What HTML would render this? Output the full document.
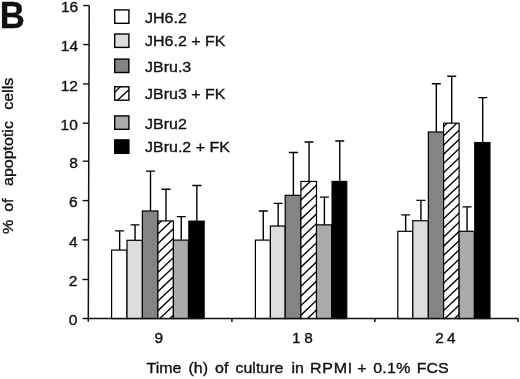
<!DOCTYPE html>
<html><head><meta charset="utf-8"><title>B</title>
<style>
html,body{margin:0;padding:0;background:#fff}
body{width:520px;height:379px;overflow:hidden;font-family:"Liberation Sans",sans-serif}
svg{display:block;will-change:transform}
text{font-family:"Liberation Sans",sans-serif;fill:#111;stroke:#111;stroke-width:.35px}
</style></head><body>
<svg width="520" height="379" viewBox="0 0 520 379">
<rect width="520" height="379" fill="#fff"/>

<text transform="translate(-0.3 27.5) scale(0.943 1)" font-size="36.8" font-weight="bold" fill="#000" stroke="none">B</text>
<path d="M119.65 250.07V230.91M115.15 230.91H124.15" stroke="#000" stroke-width="1.4" fill="none"/>
<rect x="111.60" y="250.07" width="15.40" height="68.53" fill="#fff" stroke="#000" stroke-width="1.2"/>
<path d="M135.05 240.30V224.85M130.55 224.85H139.55" stroke="#000" stroke-width="1.4" fill="none"/>
<rect x="127.00" y="240.30" width="15.40" height="78.30" fill="#dddddd" stroke="#000" stroke-width="1.2"/>
<path d="M150.50 210.97V171.09M146.00 171.09H155.00" stroke="#000" stroke-width="1.4" fill="none"/>
<rect x="142.40" y="210.97" width="15.50" height="107.63" fill="#848484" stroke="#000" stroke-width="1.2"/>
<path d="M166.00 220.94V189.27M161.50 189.27H170.50" stroke="#000" stroke-width="1.4" fill="none"/>
<rect x="157.90" y="220.94" width="15.50" height="97.66" fill="#fff" stroke="#000" stroke-width="1.2"/>
<clipPath id="c0"><rect x="157.90" y="220.94" width="15.50" height="97.66"/></clipPath>
<path d="M156.90 215.65L174.40 199.04M156.90 225.25L174.40 208.64M156.90 234.85L174.40 218.24M156.90 244.45L174.40 227.84M156.90 254.05L174.40 237.44M156.90 263.65L174.40 247.04M156.90 273.25L174.40 256.64M156.90 282.85L174.40 266.24M156.90 292.45L174.40 275.84M156.90 302.05L174.40 285.44M156.90 311.65L174.40 295.04M156.90 321.25L174.40 304.64M156.90 330.85L174.40 314.24" clip-path="url(#c0)" stroke="#000" stroke-width="1.35" fill="none"/>
<path d="M181.25 240.10V216.64M176.75 216.64H185.75" stroke="#000" stroke-width="1.4" fill="none"/>
<rect x="173.40" y="240.10" width="15.00" height="78.50" fill="#aaaaaa" stroke="#000" stroke-width="1.2"/>
<path d="M196.85 221.14V185.56M192.35 185.56H201.35" stroke="#000" stroke-width="1.4" fill="none"/>
<rect x="188.85" y="221.14" width="15.30" height="97.46" fill="#000" stroke="#000" stroke-width="1.2"/>
<path d="M263.25 240.10V210.97M258.75 210.97H267.75" stroke="#000" stroke-width="1.4" fill="none"/>
<rect x="255.40" y="240.10" width="15.00" height="78.50" fill="#fff" stroke="#000" stroke-width="1.2"/>
<path d="M278.15 226.02V203.35M273.65 203.35H282.65" stroke="#000" stroke-width="1.4" fill="none"/>
<rect x="270.40" y="226.02" width="14.80" height="92.58" fill="#dddddd" stroke="#000" stroke-width="1.2"/>
<path d="M293.40 195.33V152.52M288.90 152.52H297.90" stroke="#000" stroke-width="1.4" fill="none"/>
<rect x="285.20" y="195.33" width="15.70" height="123.27" fill="#848484" stroke="#000" stroke-width="1.2"/>
<path d="M309.05 181.45V141.96M304.55 141.96H313.55" stroke="#000" stroke-width="1.4" fill="none"/>
<rect x="300.90" y="181.45" width="15.60" height="137.15" fill="#fff" stroke="#000" stroke-width="1.2"/>
<clipPath id="c1"><rect x="300.90" y="181.45" width="15.60" height="137.15"/></clipPath>
<path d="M299.90 172.15L317.50 155.45M299.90 181.75L317.50 165.05M299.90 191.35L317.50 174.65M299.90 200.95L317.50 184.25M299.90 210.55L317.50 193.85M299.90 220.15L317.50 203.45M299.90 229.75L317.50 213.05M299.90 239.35L317.50 222.65M299.90 248.95L317.50 232.25M299.90 258.55L317.50 241.85M299.90 268.15L317.50 251.45M299.90 277.75L317.50 261.05M299.90 287.35L317.50 270.65M299.90 296.95L317.50 280.25M299.90 306.55L317.50 289.85M299.90 316.15L317.50 299.45M299.90 325.75L317.50 309.05M299.90 335.35L317.50 318.65" clip-path="url(#c1)" stroke="#000" stroke-width="1.35" fill="none"/>
<path d="M324.40 224.85V197.09M319.90 197.09H328.90" stroke="#000" stroke-width="1.4" fill="none"/>
<rect x="316.50" y="224.85" width="15.10" height="93.75" fill="#aaaaaa" stroke="#000" stroke-width="1.2"/>
<path d="M339.75 181.45V140.98M335.25 140.98H344.25" stroke="#000" stroke-width="1.4" fill="none"/>
<rect x="332.05" y="181.45" width="14.70" height="137.15" fill="#000" stroke="#000" stroke-width="1.2"/>
<path d="M405.65 231.30V214.88M401.15 214.88H410.15" stroke="#000" stroke-width="1.4" fill="none"/>
<rect x="397.80" y="231.30" width="15.00" height="87.30" fill="#fff" stroke="#000" stroke-width="1.2"/>
<path d="M420.93 220.75V200.41M416.43 200.41H425.43" stroke="#000" stroke-width="1.4" fill="none"/>
<rect x="412.80" y="220.75" width="15.55" height="97.85" fill="#dddddd" stroke="#000" stroke-width="1.2"/>
<path d="M436.33 131.99V83.70M431.83 83.70H440.83" stroke="#000" stroke-width="1.4" fill="none"/>
<rect x="428.35" y="131.99" width="15.25" height="186.61" fill="#848484" stroke="#000" stroke-width="1.2"/>
<path d="M451.70 123.19V76.27M447.20 76.27H456.20" stroke="#000" stroke-width="1.4" fill="none"/>
<rect x="443.60" y="123.19" width="15.50" height="195.41" fill="#fff" stroke="#000" stroke-width="1.2"/>
<clipPath id="c2"><rect x="443.60" y="123.19" width="15.50" height="195.41"/></clipPath>
<path d="M442.60 118.35L460.10 101.74M442.60 127.55L460.10 110.94M442.60 136.75L460.10 120.14M442.60 145.95L460.10 129.34M442.60 155.15L460.10 138.54M442.60 164.35L460.10 147.74M442.60 173.55L460.10 156.94M442.60 182.75L460.10 166.14M442.60 191.95L460.10 175.34M442.60 201.15L460.10 184.54M442.60 210.35L460.10 193.74M442.60 219.55L460.10 202.94M442.60 228.75L460.10 212.14M442.60 237.95L460.10 221.34M442.60 247.15L460.10 230.54M442.60 256.35L460.10 239.74M442.60 265.55L460.10 248.94M442.60 274.75L460.10 258.14M442.60 283.95L460.10 267.34M442.60 293.15L460.10 276.54M442.60 302.35L460.10 285.74M442.60 311.55L460.10 294.94M442.60 320.75L460.10 304.14M442.60 329.95L460.10 313.34" clip-path="url(#c2)" stroke="#000" stroke-width="1.35" fill="none"/>
<path d="M467.05 231.30V206.87M462.55 206.87H471.55" stroke="#000" stroke-width="1.4" fill="none"/>
<rect x="459.10" y="231.30" width="15.20" height="87.30" fill="#aaaaaa" stroke="#000" stroke-width="1.2"/>
<path d="M482.70 142.55V97.58M478.20 97.58H487.20" stroke="#000" stroke-width="1.4" fill="none"/>
<rect x="474.75" y="142.55" width="15.20" height="176.05" fill="#000" stroke="#000" stroke-width="1.2"/>
<path d="M89.2 5.5L88.3 321.8M82.6 318.6H518.4M518 318.6V321.9M231.9 318.6V321.9M374.9 318.6V321.9" stroke="#111" stroke-width="1.5" fill="none"/>
<path d="M83.20 5.55H89.20" stroke="#111" stroke-width="1.4"/>
<text x="78.20" y="12.35" font-size="15.5" text-anchor="end">16</text>
<path d="M83.09 44.57H89.09" stroke="#111" stroke-width="1.4"/>
<text x="78.09" y="51.37" font-size="15.5" text-anchor="end">14</text>
<path d="M82.98 83.90H88.98" stroke="#111" stroke-width="1.4"/>
<text x="77.98" y="90.70" font-size="15.5" text-anchor="end">12</text>
<path d="M82.87 123.20H88.87" stroke="#111" stroke-width="1.4"/>
<text x="77.87" y="130.00" font-size="15.5" text-anchor="end">10</text>
<path d="M82.76 161.20H88.76" stroke="#111" stroke-width="1.4"/>
<text x="77.76" y="168.00" font-size="15.5" text-anchor="end">8</text>
<path d="M82.64 200.60H88.64" stroke="#111" stroke-width="1.4"/>
<text x="77.64" y="207.40" font-size="15.5" text-anchor="end">6</text>
<path d="M82.53 239.90H88.53" stroke="#111" stroke-width="1.4"/>
<text x="77.53" y="246.70" font-size="15.5" text-anchor="end">4</text>
<path d="M82.42 279.50H88.42" stroke="#111" stroke-width="1.4"/>
<text x="77.42" y="286.30" font-size="15.5" text-anchor="end">2</text>
<text x="77.31" y="325.45" font-size="15.5" text-anchor="end">0</text>
<text x="154.6" y="343.4" font-size="15.4">9</text>
<text x="292.1" y="343.4" font-size="15.4" letter-spacing="3.6">18</text>
<text x="435.2" y="343.4" font-size="15.4" letter-spacing="3.3">24</text>
<text transform="translate(146.5 373.2) scale(1.06 1)" font-size="15.1" word-spacing="2.45">Time (h) of culture <tspan dx="0.9">in</tspan> <tspan dx="-0.9" letter-spacing="0.7">RPMI</tspan> <tspan dx="-2.7">+</tspan> <tspan dx="-0.4" letter-spacing="0.3">0.1%</tspan> <tspan dx="-1.1">FCS</tspan></text>
<text transform="translate(13.3 234) rotate(-90) scale(1.075 1)" font-size="14.9" word-spacing="4.65">% <tspan dx="-1.4">of</tspan> <tspan dx="2.8">apoptotic</tspan> <tspan dx="1.7">cells</tspan></text>
<rect x="114.7" y="9.90" width="14.2" height="13.4" fill="#fff" stroke="#000" stroke-width="1.4"/>
<text transform="translate(145 23.0) scale(1.06 1)" font-size="15.1">JH6.2</text>
<rect x="114.7" y="34.00" width="14.2" height="13.4" fill="#dddddd" stroke="#000" stroke-width="1.4"/>
<text transform="translate(145 45.9) scale(1.06 1)" font-size="15.1">JH6.2 + FK</text>
<rect x="114.7" y="59.10" width="14.2" height="13.4" fill="#848484" stroke="#000" stroke-width="1.4"/>
<text transform="translate(145 71.7) scale(1.06 1)" font-size="15.1">JBru.3</text>
<rect x="114.7" y="86.80" width="14.2" height="13.4" fill="#fff" stroke="#000" stroke-width="1.4"/>
<path d="M114.75 92.40L120.3 86.8M117.5 100.20L128.9 89.70" stroke="#000" stroke-width="1.3"/>
<text transform="translate(145 98.9) scale(1.06 1)" font-size="15.1">JBru3 + FK</text>
<rect x="114.7" y="115.90" width="14.2" height="13.4" fill="#aaaaaa" stroke="#000" stroke-width="1.4"/>
<text transform="translate(145 129.0) scale(1.06 1)" font-size="15.1">JBru2</text>
<rect x="114.7" y="139.90" width="14.2" height="13.4" fill="#000" stroke="#000" stroke-width="1.4"/>
<text transform="translate(145 152.0) scale(1.06 1)" font-size="15.1">JBru.2 + FK</text>
</svg></body></html>
